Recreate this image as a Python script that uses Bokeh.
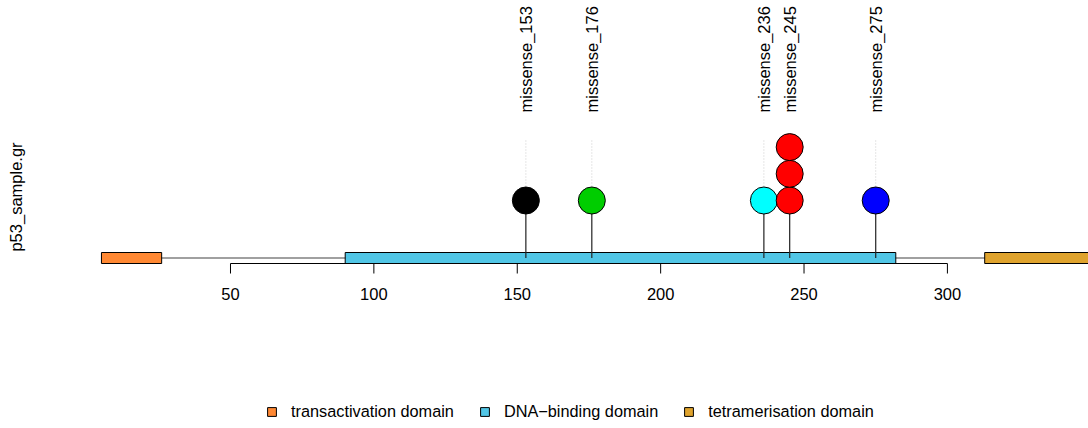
import math
from bokeh.plotting import figure
from bokeh.models import Range1d, Label, Legend, LegendItem, ColumnDataSource
from bokeh.core.properties import value
from bokeh.embed import file_html
from bokeh.resources import INLINE

# ---- data ----
domain_names = ["transactivation domain", "DNA\u2212binding domain", "tetramerisation domain"]
domain_start = [5, 90, 313]
domain_end = [26, 282, 393]
domain_colors = ["#FF8833", "#51C6E6", "#DFA32D"]

mut_pos = [153, 176, 236, 245, 275]
mut_score = [1, 1, 1, 3, 1]
mut_labels = ["missense_153", "missense_176", "missense_236", "missense_245", "missense_275"]
mut_colors = ["#000000", "#00CD00", "#00FFFF", "#FF0000", "#0000FF"]

protein_start = 5
protein_end = 393

tick_values = [50, 100, 150, 200, 250, 300]
tick_labels = ["50", "100", "150", "200", "250", "300"]
track_name = "p53_sample.gr"

# ---- layout (pixel units from bottom of frame) ----
FONT = "Liberation Sans"
W, H = 1088, 428
backbone_y = 170.5
box_bottom, box_top = 165, 176
circle_base = 228
circle_step = 26.7
circle_size = 27
dot_top = 288
label_y = 316
axis_y = 165
tick_len = 10
ticklabel_y = 135

p = figure(width=W, height=H, x_range=Range1d(-30.2, 349.2), y_range=Range1d(0, H),
           x_axis_type=None, y_axis_type=None, min_border=0,
           toolbar_location=None, output_backend="svg")
p.grid.visible = False
p.outline_line_color = None
p.background_fill_color = "white"

# backbone
p.segment(x0=[protein_start], y0=[backbone_y], x1=[protein_end], y1=[backbone_y],
          line_color="#808080", line_width=1.6)

# domains
dsrc = ColumnDataSource(dict(left=domain_start, right=domain_end,
                             bottom=[box_bottom] * 3, top=[box_top] * 3,
                             color=domain_colors, name=domain_names))
dr = p.quad(left="left", right="right", bottom="bottom", top="top", source=dsrc,
            fill_color="color", line_color="black", line_width=1)

# stems
p.segment(x0=mut_pos, y0=[backbone_y] * len(mut_pos), x1=mut_pos,
          y1=[circle_base] * len(mut_pos), line_color="#222222", line_width=1.2)

# dotted guides
p.segment(x0=mut_pos, y0=[dot_top] * len(mut_pos), x1=mut_pos,
          y1=[circle_base] * len(mut_pos), line_color="#cccccc", line_width=1,
          line_dash="1 2")

# circles (stacked by score)
cx, cy, cc = [], [], []
for pos, sc, col in zip(mut_pos, mut_score, mut_colors):
    for k in range(sc):
        cx.append(pos)
        cy.append(circle_base + circle_step * k)
        cc.append(col)
p.scatter(x=cx, y=cy, size=circle_size, fill_color=cc, line_color="black", line_width=1)

# labels
p.text(x=mut_pos, y=[label_y] * len(mut_pos), text=mut_labels, angle=math.pi / 2,
       text_align="left", text_baseline="middle", text_font=value(FONT),
       text_font_size="16.5px", text_color="black")

# axis
p.segment(x0=[tick_values[0]], y0=[axis_y], x1=[tick_values[-1]], y1=[axis_y],
          line_color="black", line_width=1)
p.segment(x0=tick_values, y0=[axis_y] * len(tick_values), x1=tick_values,
          y1=[axis_y - tick_len] * len(tick_values), line_color="black", line_width=1)
p.text(x=tick_values, y=[ticklabel_y] * len(tick_values), text=tick_labels,
       text_align="center", text_baseline="middle", text_font=value(FONT),
       text_font_size="16.5px", text_color="black")

# track name
p.add_layout(Label(x=15.5, y=231.5, x_units="screen", y_units="screen", text=track_name,
                   angle=math.pi / 2, text_align="center", text_baseline="middle",
                   text_font=FONT, text_font_size="16.5px", text_color="black"))

# legend
items = [LegendItem(label=n, renderers=[dr], index=i) for i, n in enumerate(domain_names)]
legend = Legend(items=items, orientation="horizontal", location=(266, 7),
                padding=0, margin=0, spacing=25, label_standoff=14,
                glyph_width=11, glyph_height=11, label_height=11,
                label_text_font=FONT, label_text_font_size="16.3px",
                label_text_color="black",
                border_line_color=None, background_fill_alpha=0)
p.add_layout(legend)

open("out.html", "w").write(file_html(p, INLINE))
